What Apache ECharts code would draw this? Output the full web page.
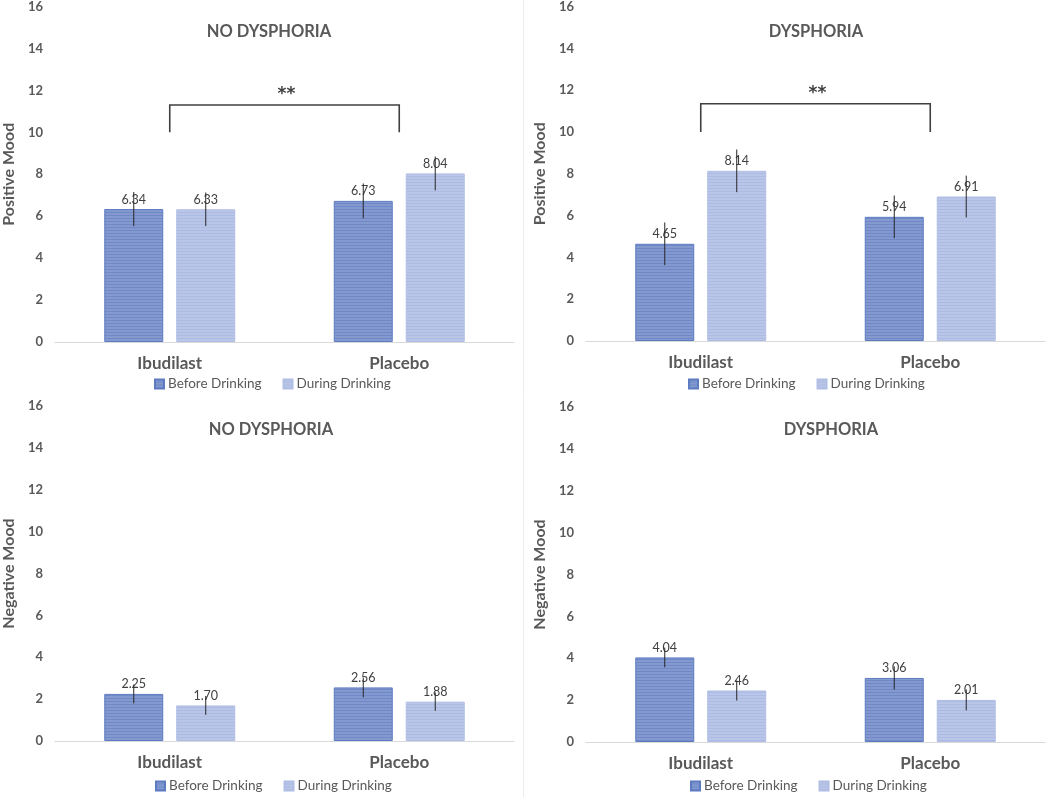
<!DOCTYPE html>
<html>
<head>
<meta charset="utf-8">
<script src="https://cdn.jsdelivr.net/npm/echarts@6/dist/echarts.min.js"></script>
<style>
html,body{margin:0;padding:0;background:#fff;}
#chart{width:1050px;height:797px;}
</style>
</head>
<body>
<div id="chart"></div>
<script>
// ---------- DATA ----------
const categories = ['Ibudilast', 'Placebo'];
const seriesNames = ['Before Drinking', 'During Drinking'];
const panelTitles = ['NO DYSPHORIA', 'DYSPHORIA', 'NO DYSPHORIA', 'DYSPHORIA'];
const yAxisNames = ['Positive Mood', 'Positive Mood', 'Negative Mood', 'Negative Mood'];

const posNoDysBefore = [6.34, 6.73];
const posNoDysDuring = [6.33, 8.04];
const posNoDysBeforeErr = [0.81, 0.83];
const posNoDysDuringErr = [0.80, 0.81];

const posDysBefore = [4.65, 5.94];
const posDysDuring = [8.14, 6.91];
const posDysBeforeErr = [1.02, 1.02];
const posDysDuringErr = [1.02, 1.00];

const negNoDysBefore = [2.25, 2.56];
const negNoDysDuring = [1.70, 1.88];
const negNoDysBeforeErr = [0.45, 0.47];
const negNoDysDuringErr = [0.45, 0.44];

const negDysBefore = [4.04, 3.06];
const negDysDuring = [2.46, 2.01];
const negDysBeforeErr = [0.47, 0.55];
const negDysDuringErr = [0.48, 0.50];

// significance brackets (only top panels): [top value, bottom value]
const sigBracketNoDys = [11.3, 10];
const sigBracketDys = [11.35, 10];
const sigLabel = '**';

// ---------- STYLE ----------
const FONT = 'Lato, "Open Sans", sans-serif';
const TXT = '#595959';
const BAR_W = 59;
const BAR_GAP = 0.22;

function stripe(base, line) {
  const c = document.createElement('canvas');
  c.width = 4; c.height = 3;
  const g = c.getContext('2d');
  g.fillStyle = base; g.fillRect(0, 0, 4, 3);
  g.fillStyle = line; g.fillRect(0, 2, 4, 1);
  return c;
}
const beforeFill = { image: stripe('#8399d0', '#7089c6'), repeat: 'repeat' };
const duringFill = { image: stripe('#bac6e8', '#adbae3'), repeat: 'repeat' };
const beforeBorder = '#5c7bc1';
const duringBorder = '#b0bee5';

const panels = [
  { grid: { left: 54, top: 6, width: 460, height: 336 }, before: posNoDysBefore, during: posNoDysDuring, bErr: posNoDysBeforeErr, dErr: posNoDysDuringErr, sig: sigBracketNoDys, titlePos: [269, 23], legendLeft: 154, legendTop: 377 },
  { grid: { left: 586, top: 5, width: 459, height: 336 }, before: posDysBefore, during: posDysDuring, bErr: posDysBeforeErr, dErr: posDysDuringErr, sig: sigBracketDys, titlePos: [816, 23], legendLeft: 688, legendTop: 377 },
  { grid: { left: 54, top: 406, width: 460, height: 335 }, before: negNoDysBefore, during: negNoDysDuring, bErr: negNoDysBeforeErr, dErr: negNoDysDuringErr, sig: null, titlePos: [271, 421], legendLeft: 155, legendTop: 779 },
  { grid: { left: 586, top: 407, width: 459, height: 335 }, before: negDysBefore, during: negDysDuring, bErr: negDysBeforeErr, dErr: negDysDuringErr, sig: null, titlePos: [831, 421], legendLeft: 690, legendTop: 779 }
];

const grids = [], xAxes = [], yAxes = [], series = [], titles = [], legends = [];
const halfOffset = (BAR_W + BAR_W * BAR_GAP) / 2;

panels.forEach((p, i) => {
  grids.push(Object.assign({ containLabel: false }, p.grid));
  titles.push({
    text: panelTitles[i], left: p.titlePos[0], top: p.titlePos[1], textAlign: 'center', padding: 0,
    textStyle: { fontFamily: FONT, fontSize: 16.5, fontWeight: 'bold', color: TXT }
  });
  xAxes.push({
    type: 'category', gridIndex: i, data: categories,
    axisLine: { lineStyle: { color: '#d9d9d9', width: 1 } },
    axisTick: { show: false },
    axisLabel: { fontFamily: FONT, fontSize: 17, fontWeight: 'bold', color: TXT, margin: 13 }
  });
  yAxes.push({
    type: 'value', gridIndex: i, min: 0, max: 16, interval: 2,
    name: yAxisNames[i], nameLocation: 'middle', nameGap: 38, nameRotate: 90,
    nameTextStyle: { fontFamily: FONT, fontSize: 16, fontWeight: 'bold', color: TXT },
    axisLine: { show: false }, axisTick: { show: false }, splitLine: { show: false },
    axisLabel: { fontFamily: FONT, fontSize: 13, fontWeight: 'bold', color: TXT, margin: 12 }
  });
  legends.push({
    data: seriesNames, left: p.legendLeft, top: p.legendTop, padding: 0,
    itemWidth: 9, itemHeight: 9, itemGap: 21, icon: 'rect',
    textStyle: { fontFamily: FONT, fontSize: 13.5, color: TXT, padding: [0, 0, 0, -1] }
  });
  const lbl = { show: true, position: 'top', distance: 3, fontFamily: FONT, fontSize: 12.5, color: '#404040', formatter: (d) => d.value.toFixed(2) };
  series.push({
    name: seriesNames[0], type: 'bar', xAxisIndex: i, yAxisIndex: i, data: p.before,
    barWidth: BAR_W, barGap: (BAR_GAP * 100) + '%',
    itemStyle: { color: beforeFill, borderColor: beforeBorder, borderWidth: 1 },
    label: lbl
  });
  series.push({
    name: seriesNames[1], type: 'bar', xAxisIndex: i, yAxisIndex: i, data: p.during,
    barWidth: BAR_W, barGap: (BAR_GAP * 100) + '%',
    itemStyle: { color: duringFill, borderColor: duringBorder, borderWidth: 1 },
    label: lbl
  });
  // error bars
  const errData = [];
  categories.forEach((c, k) => {
    errData.push([k, p.before[k] - p.bErr[k], p.before[k] + p.bErr[k], -1]);
    errData.push([k, p.during[k] - p.dErr[k], p.during[k] + p.dErr[k], 1]);
  });
  series.push({
    type: 'custom', xAxisIndex: i, yAxisIndex: i, data: errData, z: 10, silent: true,
    renderItem: (params, api) => {
      const lo = api.coord([api.value(0), api.value(1)]);
      const hi = api.coord([api.value(0), api.value(2)]);
      const x = lo[0] + api.value(3) * halfOffset;
      return { type: 'line', shape: { x1: x, y1: lo[1], x2: x, y2: hi[1] }, style: { stroke: '#262626', lineWidth: 1 } };
    }
  });
  if (p.sig) {
    series.push({
      type: 'custom', xAxisIndex: i, yAxisIndex: i, data: [[0, 1, p.sig[0], p.sig[1]]], z: 10, silent: true,
      renderItem: (params, api) => {
        const a0 = api.coord([api.value(0), api.value(3)]);
        const a1 = api.coord([api.value(0), api.value(2)]);
        const b1 = api.coord([api.value(1), api.value(2)]);
        const b0 = api.coord([api.value(1), api.value(3)]);
        return {
          type: 'group', children: [
            { type: 'polyline', shape: { points: [a0, a1, b1, b0] }, style: { stroke: '#404040', lineWidth: 1.6, fill: null } },
            { type: 'text', style: { text: sigLabel, x: (a1[0] + b1[0]) / 2 + 2, y: a1[1] - 10, align: 'center', verticalAlign: 'middle', fontFamily: '"DejaVu Sans", sans-serif', fontSize: 17, fontWeight: 'bold', fill: '#404040' } }
          ]
        };
      }
    });
  }
});

const chart = echarts.init(document.getElementById('chart'), null, { renderer: 'canvas' });
chart.setOption({
  backgroundColor: '#ffffff',
  animation: false,
  title: titles,
  legend: legends,
  grid: grids,
  xAxis: xAxes,
  yAxis: yAxes,
  series: series,
  graphic: [
    { type: 'line', shape: { x1: 523.5, y1: 0, x2: 523.5, y2: 797 }, style: { stroke: '#ececec', lineWidth: 1 }, silent: true }
  ]
});
</script>
</body>
</html>
